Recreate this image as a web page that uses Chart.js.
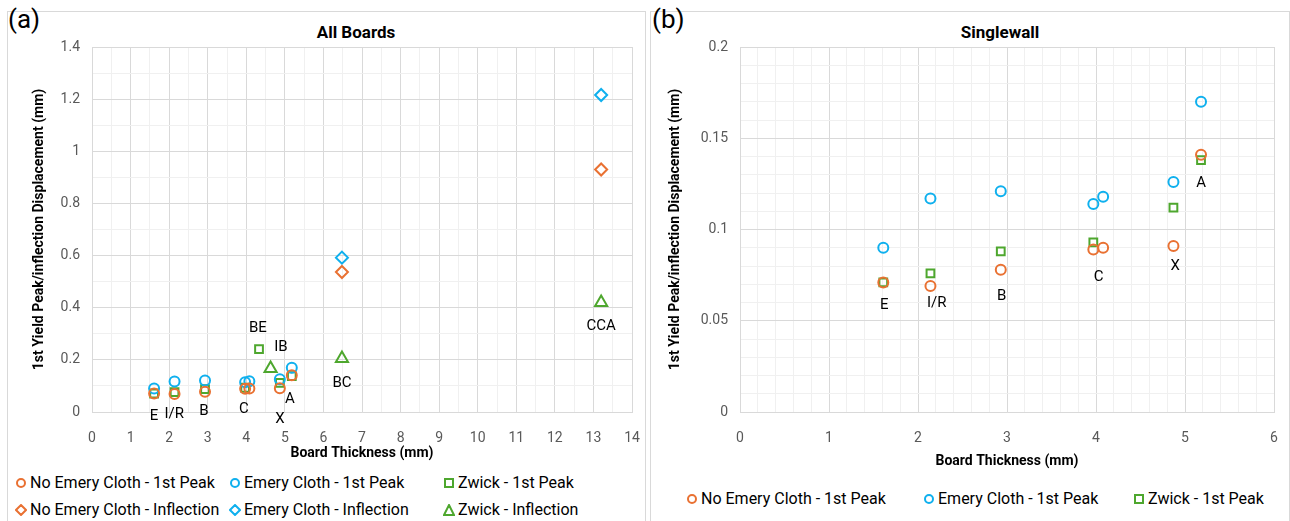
<!DOCTYPE html>
<html>
<head>
<meta charset="utf-8">
<script src="https://cdn.jsdelivr.net/npm/chart.js@4.4.1/dist/chart.umd.min.js"></script>
<style>
body{margin:0;background:#fff;font-family:Roboto,'Liberation Sans',sans-serif;width:1290px;height:521px;overflow:hidden;position:relative}
.panel{position:absolute;top:11px;height:520px;border:1px solid #d9d9d9;border-bottom:none;box-sizing:border-box}
.tag{position:absolute;top:4px;font-size:26px;color:#000;line-height:30px}
.ttl{position:absolute;top:22px;font-size:17px;font-weight:bold;color:#000;transform:translateX(-50%);line-height:20px}
canvas{position:absolute}
.leg{position:absolute;font-size:16px;color:#000;white-space:nowrap;line-height:18px;transform:translateY(-50%)}
.leg svg{vertical-align:-1px;margin-right:3px}
</style>
</head>
<body>
<div class="panel" style="left:7px;width:639px"></div>
<div class="panel" style="left:650px;width:640px"></div>
<div class="tag" style="left:8px">(a)</div>
<div class="tag" style="left:652px">(b)</div>
<div class="ttl" style="left:356px">All Boards</div>
<div class="ttl" style="left:1000px">Singlewall</div>
<canvas id="allBoards" width="638" height="460" style="left:7px;top:12px"></canvas>
<canvas id="singlewall" width="640" height="460" style="left:650px;top:12px"></canvas>
<div id="legA"></div>
<div id="legB"></div>
<script>
// Board thickness (mm) for the singlewall boards E, I/R, B, C, C, X, A
var swThick = [1.61, 2.14, 2.93, 3.97, 4.08, 4.87, 5.18];
var noEmeryPeak = [0.071, 0.069, 0.078, 0.089, 0.090, 0.091, 0.141];
var emeryPeak = [0.090, 0.117, 0.121, 0.114, 0.118, 0.126, 0.170];
// zwick has no 4.08 point but has BE
var zwickThick = [1.61, 2.14, 2.93, 3.97, 4.87, 5.18];
var zwickPeak = [0.071, 0.076, 0.088, 0.093, 0.112, 0.138];
var beThick = [4.33];
var bePeak = [0.241];

// inflection points (BC, CCA) and zwick inflection (IB, BC, CCA)
var inflThick = [6.48, 13.2];
var noEmeryInfl = [0.537, 0.930];
var emeryInfl = [0.592, 1.216];
var zwickInflThick = [4.63, 6.48, 13.2];
var zwickInfl = [0.167, 0.205, 0.420];

// data labels [text, thickness, value]
var labelsA = [['E',1.61,-0.015],['I/R',2.13,-0.008],['B',2.9,0.004],['C',3.94,0.012],['X',4.87,-0.027],['A',5.13,0.05],
  ['BE',4.3,0.322],['IB',4.9,0.249],['BC',6.48,0.111],['CCA',13.2,0.33]];
var labelsB = [['E',1.62,0.0586],['I/R',2.21,0.0597],['B',2.94,0.0636],['C',4.03,0.074],['X',4.89,0.080],['A',5.18,0.1255]];

var xTicksA = [0,1,2,3,4,5,6,7,8,9,10,11,12,13,14];
var yTicksA = [0,0.2,0.4,0.6,0.8,1,1.2,1.4];
var xTicksB = [0,1,2,3,4,5,6];
var yTicksB = [0,0.05,0.1,0.15,0.2];

var ORANGE = '#E97132', BLUE = '#0FB0EE', GREEN = '#4EA72E';

Chart.defaults.font.family = 'Roboto';

function pts(xs, ys) {
    return xs.map(function (x, i) { return {x: x, y: ys[i]}; });
}
function isMajor(v, step) {
    return Math.abs(v / step - Math.round(v / step)) < 1e-6;
}
function fmt(v) {
    return String(+v.toFixed(3));
}
function ds(label, data, color, style, r) {
    return {label: label, data: data, borderColor: color, backgroundColor: 'rgba(0,0,0,0)',
        pointStyle: style, pointRadius: r, pointHoverRadius: r, pointBorderWidth: 2};
}
function labelPlugin(items) {
    return {
        id: 'pointLabels',
        afterDatasetsDraw: function (chart) {
            var ctx = chart.ctx, x = chart.scales.x, y = chart.scales.y;
            ctx.save();
            ctx.font = '15px Roboto';
            ctx.fillStyle = '#000';
            ctx.textAlign = 'center';
            ctx.textBaseline = 'middle';
            items.forEach(function (it) {
                ctx.fillText(it[0], x.getPixelForValue(it[1]), y.getPixelForValue(it[2]));
            });
            ctx.restore();
        }
    };
}

function makeChart(id, datasets, c) {
    return new Chart(document.getElementById(id), {
        type: 'scatter',
        data: {datasets: datasets},
        options: {
            responsive: false,
            animation: false,
            layout: {padding: {top: 35, right: c.padRight, bottom: 0, left: 0}},
            plugins: {legend: {display: false}, tooltip: {enabled: false}},
            scales: {
                x: {
                    min: c.xTicks[0], max: c.xTicks[c.xTicks.length - 1],
                    afterFit: function (s) { s.height = 60; s.paddingLeft = 0; s.paddingRight = 0; },
                    ticks: {stepSize: c.xMinor, autoSkip: false, maxRotation: 0, padding: 18, color: '#595959',
                        font: {size: 14}, callback: function (v) { return isMajor(v, c.xTicks[1]) ? fmt(v) : ''; }},
                    grid: {drawTicks: false, color: function (ctx) { return isMajor(ctx.tick.value, c.xTicks[1]) ? '#d9d9d9' : '#f0f0f0'; }},
                    border: {color: '#d9d9d9'},
                    title: {display: true, text: 'Board Thickness (mm)', color: '#000', font: {size: 14, weight: 'bold'},
                        padding: {top: 0, bottom: c.xTitlePad}}
                },
                y: {
                    min: c.yTicks[0], max: c.yTicks[c.yTicks.length - 1],
                    afterFit: function (s) { s.width = c.yWidth; s.paddingTop = 0; s.paddingBottom = 0; },
                    ticks: {stepSize: c.yMinor, autoSkip: false, padding: 12, color: '#595959', font: {size: 14},
                        callback: function (v) { return isMajor(v, c.yTicks[1]) ? fmt(v) : ''; }},
                    grid: {drawTicks: false, color: function (ctx) { return isMajor(ctx.tick.value, c.yTicks[1]) ? '#d9d9d9' : '#f0f0f0'; }},
                    border: {color: '#d9d9d9'},
                    title: {display: true, text: '1st Yield Peak/inflection Displacement (mm)', color: '#000',
                        font: {size: 14, weight: 'bold'}, padding: {top: c.yTitlePad, bottom: 0}}
                }
            }
        },
        plugins: [labelPlugin(c.labels)]
    });
}

makeChart('allBoards', [
    ds('No Emery Cloth - 1st Peak', pts(swThick, noEmeryPeak), ORANGE, 'circle', 5),
    ds('Emery Cloth - 1st Peak', pts(swThick, emeryPeak), BLUE, 'circle', 5),
    ds('Zwick - 1st Peak', pts(zwickThick.concat(beThick), zwickPeak.concat(bePeak)), GREEN, 'rect', 5.5),
    ds('No Emery Cloth - Inflection', pts(inflThick, noEmeryInfl), ORANGE, 'rectRot', 6),
    ds('Emery Cloth - Inflection', pts(inflThick, emeryInfl), BLUE, 'rectRot', 6),
    ds('Zwick - Inflection', pts(zwickInflThick, zwickInfl), GREEN, 'triangle', 7)
], {xTicks: xTicksA, yTicks: yTicksA, xMinor: 0.5, yMinor: 0.1, padRight: 13, yWidth: 85,
    yTitlePad: 23.6, xTitlePad: 10.6, labels: labelsA});

makeChart('singlewall', [
    ds('No Emery Cloth - 1st Peak', pts(swThick, noEmeryPeak), ORANGE, 'circle', 5),
    ds('Emery Cloth - 1st Peak', pts(swThick, emeryPeak), BLUE, 'circle', 5),
    ds('Zwick - 1st Peak', pts(zwickThick, zwickPeak), GREEN, 'rect', 5.5)
], {xTicks: xTicksB, yTicks: yTicksB, xMinor: 0.2, yMinor: 0.01, padRight: 16, yWidth: 90,
    yTitlePad: 16.6, xTitlePad: 2.6, labels: labelsB});

// legends
var marks = {
    circle: function (c) { return '<circle cx="6" cy="6" r="4" fill="none" stroke="' + c + '" stroke-width="2"/>'; },
    rect: function (c) { return '<rect x="2" y="2" width="8" height="8" fill="none" stroke="' + c + '" stroke-width="2"/>'; },
    rectRot: function (c) { return '<path d="M6 1 L11 6 L6 11 L1 6 Z" fill="none" stroke="' + c + '" stroke-width="2"/>'; },
    triangle: function (c) { return '<path d="M6 1 L11 11 L1 11 Z" fill="none" stroke="' + c + '" stroke-width="2"/>'; }
};
function legend(id, items) {
    document.getElementById(id).innerHTML = items.map(function (it) {
        return '<div class="leg" style="left:' + it[3] + 'px;top:' + it[4] + 'px"><svg width="12" height="12">' +
            marks[it[2]](it[1]) + '</svg>' + it[0] + '</div>';
    }).join('');
}
legend('legA', [
    ['No Emery Cloth - 1st Peak', ORANGE, 'circle', 15, 483],
    ['Emery Cloth - 1st Peak', BLUE, 'circle', 229, 483],
    ['Zwick - 1st Peak', GREEN, 'rect', 443, 483],
    ['No Emery Cloth - Inflection', ORANGE, 'rectRot', 15, 510],
    ['Emery Cloth - Inflection', BLUE, 'rectRot', 229, 510],
    ['Zwick - Inflection', GREEN, 'triangle', 443, 510]
]);
legend('legB', [
    ['No Emery Cloth - 1st Peak', ORANGE, 'circle', 686, 499],
    ['Emery Cloth - 1st Peak', BLUE, 'circle', 923, 499],
    ['Zwick - 1st Peak', GREEN, 'rect', 1133, 499]
]);
</script>
</body>
</html>
